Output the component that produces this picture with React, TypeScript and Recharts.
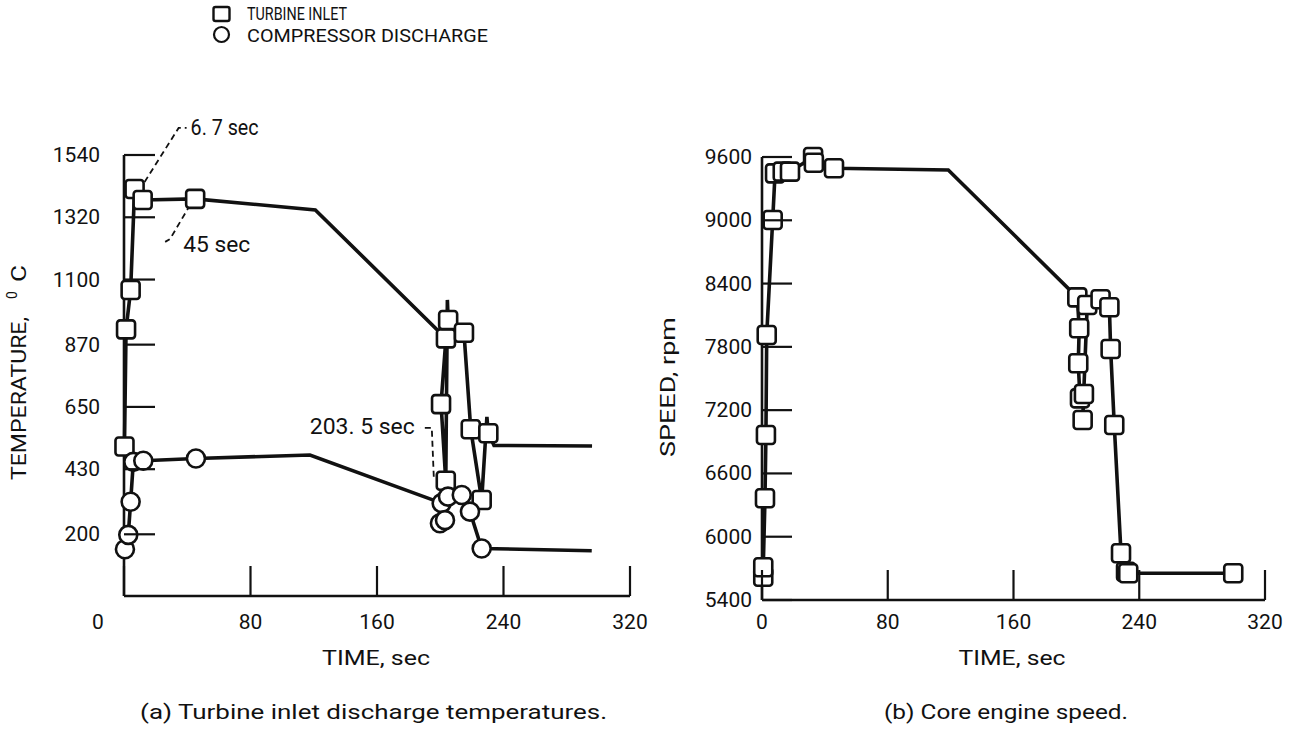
import React from 'react';
import { ComposedChart, Line, XAxis, YAxis, ReferenceDot } from 'recharts';

// ---------- data ----------
const seriesNames = ['TURBINE INLET', 'COMPRESSOR DISCHARGE'];
const timeTicks = [0, 80, 160, 240, 320];
const tempTicks = [200, 430, 650, 870, 1100, 1320, 1540];
const speedTicks = [5400, 6000, 6600, 7200, 7800, 8400, 9000, 9600];

// (a) turbine inlet temperature, degC  (mark 1 = plotted symbol, 0 = line vertex only)
const turbineTime = [0.3, 1.3, 4.2, 6.7, 11.8, 45, 121, 203.6, 200.5, 203.5, 204.5, 205, 215, 219.3, 226.2, 229.5, 230.4, 234, 296];
const turbineTemp = [510, 924, 1063, 1420, 1381, 1385, 1346, 892, 660, 389, 1028, 957, 912, 571, 321, 615, 557, 514, 512];
const turbineMark = [1, 1, 1, 1, 1, 1, 0, 1, 1, 1, 0, 1, 1, 1, 1, 0, 1, 0, 0];

// (a) compressor discharge temperature, degC
const compTime = [0.6, 2.7, 4.2, 5.9, 12.2, 45.5, 117.6, 200.9, 199.8, 203, 204.9, 213.6, 218.8, 226.2, 295.8];
const compTemp = [147, 198, 315, 456, 460, 468, 480, 310, 239, 250, 333, 339, 280, 150, 142];
const compMark = [1, 1, 1, 1, 1, 1, 0, 1, 1, 1, 1, 1, 1, 1, 0];

// (b) core engine speed, rpm
const speedTime = [0.8, 0.8, 1.9, 2.5, 3.0, 6.8, 8.3, 13.2, 17.8, 32.5, 33.0, 45.8, 118.5, 200.6, 201.8, 201.2, 202.3, 204.8, 204.0, 206.9, 215.4, 221.0, 221.8, 224.1, 228.4, 231.6, 233.0, 299.8];
const speedRpm = [5620, 5710, 6364, 6964, 7912, 9003, 9445, 9461, 9461, 9600, 9545, 9493, 9477, 8269, 7976, 7644, 7312, 7353, 7107, 8197, 8251, 8175, 7780, 7059, 5843, 5668, 5653, 5653];
const speedMark = [1, 1, 1, 1, 1, 1, 1, 1, 1, 1, 1, 1, 0, 1, 1, 1, 1, 1, 1, 1, 1, 1, 1, 1, 1, 1, 1, 1];

// annotations on (a)
const annotTimes = [6.7, 45, 203.5];
const annotTemps = [1420, 1385, 389];
const annotLabels = ['6. 7 sec', '45 sec', '203. 5 sec'];

const captions = ['(a) Turbine inlet discharge temperatures.', '(b) Core engine speed.'];

// ---------- build rows ----------
const build = (ts: number[], vs: number[], ms: number[]) => ts.map((t, i) => ({ t, v: vs[i], m: ms[i] }));
const turbineData = build(turbineTime, turbineTemp, turbineMark);
const compData = build(compTime, compTemp, compMark);
const speedData = build(speedTime, speedRpm, speedMark);

// ---------- styles ----------
const NARROW = "Roboto, 'Liberation Sans', sans-serif";
const TICKFONT = "Roboto, 'Liberation Sans', sans-serif";
const INK = '#111';

const squareDot = (p: any) => {
  const { cx, cy, payload, index } = p;
  if (!payload || !payload.m || cx == null || cy == null) return <g key={`s${index}`} />;
  return <rect key={`s${index}`} x={cx - 9} y={cy - 9} width={18} height={18} rx={3} fill="#fff" stroke={INK} strokeWidth={2.6} />;
};
const circleDot = (p: any) => {
  const { cx, cy, payload, index } = p;
  if (!payload || !payload.m || cx == null || cy == null) return <g key={`c${index}`} />;
  return <circle key={`c${index}`} cx={cx} cy={cy} r={9} fill="#fff" stroke={INK} strokeWidth={2.6} />;
};

const YTick = (p: any) => {
  const { x, y, payload, gap, len } = p;
  const ax = x + gap;
  return (
    <g>
      <line x1={ax} x2={ax + len} y1={y} y2={y} stroke={INK} strokeWidth={2.2} />
      <text x={x} y={y} textAnchor="end" dominantBaseline="central" fontFamily={TICKFONT} fontSize={21} fill={INK}>{payload.value}</text>
    </g>
  );
};
const XTick = (p: any) => {
  const { x, y, payload, gap, len, zeroShift } = p;
  const ay = y - gap;
  const dx = payload.value === 0 ? zeroShift || 0 : 0;
  return (
    <g>
      <line x1={x} x2={x} y1={ay} y2={ay - len} stroke={INK} strokeWidth={2.2} />
      <text x={x + dx} y={y} textAnchor="middle" dominantBaseline="central" fontFamily={TICKFONT} fontSize={21} fill={INK}>{payload.value}</text>
    </g>
  );
};

const dash = { stroke: INK, strokeWidth: 1.8, strokeDasharray: '6 4', fill: 'none' };
const annText = (x: number, y: number, s: string, len: number, anchor: 'start' | 'end') => (
  <text x={x} y={y} textAnchor={anchor} dominantBaseline="central" fontFamily={NARROW} fontSize={22} fill={INK} textLength={len} lengthAdjust="spacingAndGlyphs">{s}</text>
);
const annotShapes = [
  (cx: number, cy: number, s: string) => (
    <g>
      <path d={`M${cx + 10},${cy - 7} L${cx + 44},${cy - 61} L${cx + 52},${cy - 61}`} {...dash} />
      {annText(cx + 56, cy - 61, s, 68, 'start')}
    </g>
  ),
  (cx: number, cy: number, s: string) => (
    <g>
      <path d={`M${cx - 5},${cy + 6} L${cx - 25},${cy + 40} L${cx - 30},${cy + 43}`} {...dash} />
      {annText(cx - 12, cy + 46, s, 67, 'start')}
    </g>
  ),
  (cx: number, cy: number, s: string) => (
    <g>
      <path d={`M${cx - 12},${cy - 4} L${cx - 14},${cy - 53} L${cx - 25},${cy - 53}`} {...dash} />
      {annText(cx - 31, cy - 54, s, 105, 'end')}
    </g>
  ),
];

const axisLine = { stroke: INK, strokeWidth: 2.6 };

export default function App() {
  return (
    <div style={{ position: 'absolute', left: 0, top: 0, width: 1295, height: 737, background: '#fff', overflow: 'hidden' }}>
      <div style={{ position: 'absolute', left: 0, top: 0 }}>
        <ComposedChart width={650} height={737} margin={{ top: 155, right: 20, bottom: 111, left: 64 }}>
          <XAxis dataKey="t" type="number" domain={[0, 320]} ticks={timeTicks} height={30} axisLine={axisLine}
            tickLine={false} tickSize={0} tickMargin={26}
            tick={(p: any) => <XTick {...p} gap={26} len={30} zeroShift={-26} />} />
          <YAxis dataKey="v" type="number" domain={[-18, 1540]} ticks={tempTicks} width={60} axisLine={axisLine}
            tickLine={false} tickSize={0} tickMargin={24}
            tick={(p: any) => <YTick {...p} gap={24} len={31} />} />
          {annotTimes.map((t, i) => (
            <ReferenceDot key={`a${i}`} x={t} y={annotTemps[i]} r={1} ifOverflow="visible"
              shape={(p: any) => annotShapes[i](p.cx, p.cy, annotLabels[i])} />
          ))}
          <Line data={turbineData} dataKey="v" type="linear" stroke={INK} strokeWidth={3.6} dot={squareDot}
            activeDot={false} isAnimationActive={false} name={seriesNames[0]} />
          <Line data={compData} dataKey="v" type="linear" stroke={INK} strokeWidth={3.6} dot={circleDot}
            activeDot={false} isAnimationActive={false} name={seriesNames[1]} />
        </ComposedChart>
      </div>
      <div style={{ position: 'absolute', left: 650, top: 0 }}>
        <ComposedChart width={645} height={737} margin={{ top: 157, right: 30, bottom: 107, left: 52 }}>
          <XAxis dataKey="t" type="number" domain={[0, 320]} ticks={timeTicks} height={30} axisLine={axisLine}
            tickLine={false} tickSize={0} tickMargin={22}
            tick={(p: any) => <XTick {...p} gap={22} len={30} zeroShift={0} />} />
          <YAxis dataKey="v" type="number" domain={[5400, 9600]} ticks={speedTicks} width={60} axisLine={axisLine}
            tickLine={false} tickSize={0} tickMargin={10}
            tick={(p: any) => <YTick {...p} gap={10} len={30} />} />
          <Line data={speedData} dataKey="v" type="linear" stroke={INK} strokeWidth={3.6} dot={squareDot}
            activeDot={false} isAnimationActive={false} name="SPEED" />
        </ComposedChart>
      </div>
      <svg width={1295} height={737} style={{ position: 'absolute', left: 0, top: 0, pointerEvents: 'none' }}>
        {/* legend */}
        <rect x={213.5} y={7} width={16} height={14} rx={2} fill="#fff" stroke={INK} strokeWidth={2.4} />
        <text x={247} y={13} dominantBaseline="central" fontFamily={NARROW} fontSize={19} fill={INK} textLength={100} lengthAdjust="spacingAndGlyphs">{seriesNames[0]}</text>
        <circle cx={221.5} cy={34.5} r={7.5} fill="#fff" stroke={INK} strokeWidth={2.2} />
        <text x={247} y={35} dominantBaseline="central" fontFamily={NARROW} fontSize={19} fill={INK} textLength={241} lengthAdjust="spacingAndGlyphs">{seriesNames[1]}</text>
        {/* axis titles */}
        <g transform="translate(19,371) rotate(-90)">
          <text x={-109} y={0} dominantBaseline="central" fontFamily={NARROW} fontSize={21} fill={INK} textLength={163} lengthAdjust="spacingAndGlyphs">TEMPERATURE,</text>
          <text x={72} y={-7} dominantBaseline="central" fontFamily={NARROW} fontSize={14} fill={INK}>0</text>
          <text x={89} y={0} dominantBaseline="central" fontFamily={NARROW} fontSize={21} fill={INK} textLength={17} lengthAdjust="spacingAndGlyphs">C</text>
        </g>
        <g transform="translate(668,387) rotate(-90)">
          <text x={0} y={0} textAnchor="middle" dominantBaseline="central" fontFamily={NARROW} fontSize={21} fill={INK} textLength={140} lengthAdjust="spacingAndGlyphs">SPEED, rpm</text>
        </g>
        <text x={376} y={658} textAnchor="middle" dominantBaseline="central" fontFamily={NARROW} fontSize={21} fill={INK} textLength={108} lengthAdjust="spacingAndGlyphs">TIME, sec</text>
        <text x={1012} y={658} textAnchor="middle" dominantBaseline="central" fontFamily={NARROW} fontSize={21} fill={INK} textLength={107} lengthAdjust="spacingAndGlyphs">TIME, sec</text>
        {/* captions */}
        <text x={140} y={712} dominantBaseline="central" fontFamily={NARROW} fontSize={21} fill={INK} textLength={467} lengthAdjust="spacingAndGlyphs">{captions[0]}</text>
        <text x={884} y={712} dominantBaseline="central" fontFamily={NARROW} fontSize={21} fill={INK} textLength={244} lengthAdjust="spacingAndGlyphs">{captions[1]}</text>
      </svg>
    </div>
  );
}
